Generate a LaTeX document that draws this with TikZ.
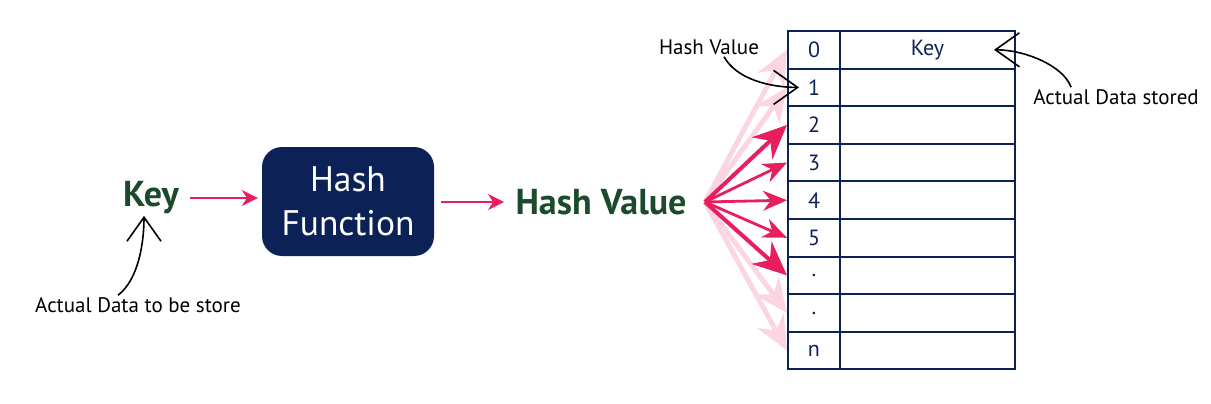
\documentclass[tikz,border=0pt]{standalone}
\usepackage{fontspec}
\setmainfont{PT Sans}
\usetikzlibrary{arrows.meta}

\definecolor{navy}{RGB}{12,34,87}
\definecolor{darkgreen}{RGB}{27,74,44}
\definecolor{hashpink}{RGB}{232,30,95}

\tikzset{
  bigword/.style={text=darkgreen,font=\fontsize{36}{42}\selectfont\bfseries},
  note/.style={font=\fontsize{21}{24}\selectfont,inner sep=2pt},
  pinkarrow/.style={hashpink,line width=2.2pt,-{Stealth[length=16pt,width=16pt]}},
  handarrow/.style={line width=1.6pt,-{Straight Barb[length=24pt,width=34pt]}}
}

\begin{document}
\begin{tikzpicture}[x=1pt,y=-1pt]
  \useasboundingbox (0,0) rectangle (1211,404);

  \node[bigword] (key) at (151,198) {Key};
  \node[fill=navy,rounded corners=20pt,minimum width=172pt,minimum height=109pt,
        text=white,align=center,font=\fontsize{35.5}{44}\selectfont] (hf) at (348,201.5) {Hash\\Function};
  \node[bigword] (hv) at (601,202) {Hash Value};

  \coordinate (fan) at ([xshift=15pt]hv.east);
  \begin{scope}[every node/.style={draw=navy,line width=2pt,inner sep=0pt,
        minimum height=37.6pt,text=navy,font=\fontsize{22}{26}\selectfont}]
    \foreach \lab [count=\i from 0] in {0,1,2,3,4,5,{.},{.},n}{
      \node[minimum width=52pt] (r\i) at (814,{49.8+37.6*\i}) {\lab};
      \node[minimum width=175pt] (k\i) at (927.5,{49.8+37.6*\i}) {\ifnum\i=0 Key\fi};
    }
  \end{scope}

  \draw[pinkarrow,shorten <=8pt,shorten >=4pt] (key) -- (key -| hf.west);
  \draw[pinkarrow,shorten <=7pt,shorten >=8pt] (hf.east |- hv) -- (hv);

  \begin{scope}[hashpink]
    \foreach \i in {0,1,7,8}
      \draw[hashpink!18,line width=5pt,-{Stealth[length=34pt,width=30pt]}] (fan) -- (r\i.west);
    \foreach \i in {2,6}
      \draw[line width=4pt,-{Stealth[length=34pt,width=30pt]}] (fan) -- (r\i.west);
    \foreach \i in {3,4,5}
      \draw[line width=2.8pt,-{Stealth[length=24pt,width=20pt]}] (fan) -- (r\i.west);
  \end{scope}

  \node[note] (hvlab) at (709,47) {Hash Value};
  \node[note] (stlab) at (1116,97) {Actual Data stored};
  \node[note] (tblab) at (138,305) {Actual Data to be store};

  \draw[handarrow] ([xshift=15pt]hvlab.south) .. controls +(12,22) and +(-30,0) .. ([xshift=12pt]r1.west);
  \draw[handarrow] ([xshift=40pt]stlab.north west) .. controls +(-8,-22) and +(30,0) .. ([xshift=-22pt]k0.east);
  \draw[handarrow] ([xshift=-20pt]tblab.north) .. controls +(20,-15) and +(0,28) .. ([xshift=-7pt,yshift=2pt]key.south);
\end{tikzpicture}
\end{document}
